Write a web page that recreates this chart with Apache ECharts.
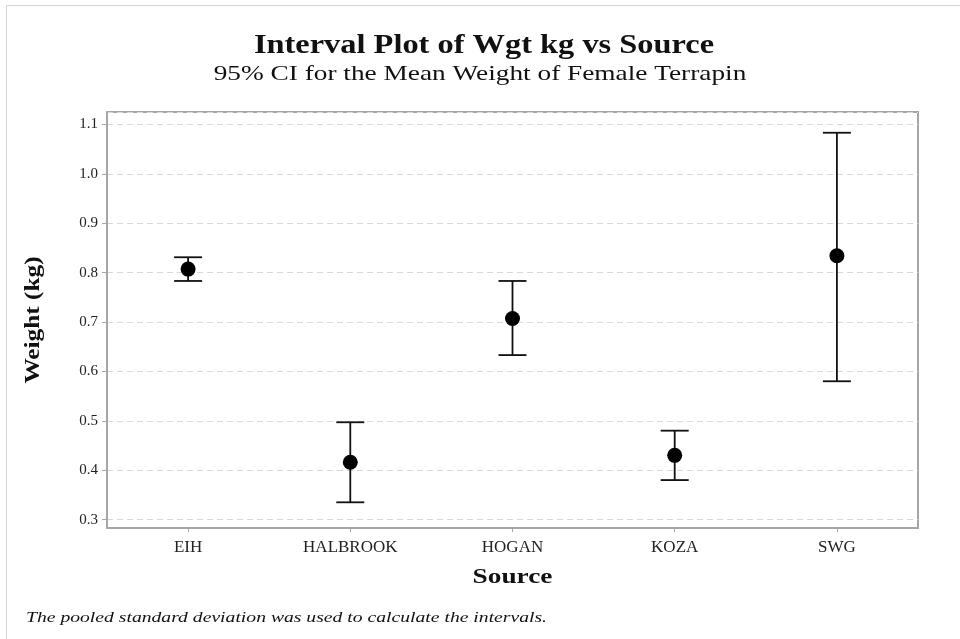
<!DOCTYPE html>
<html>
<head>
<meta charset="utf-8">
<script src="https://cdn.jsdelivr.net/npm/echarts@6/dist/echarts.min.js"></script>
<style>
html,body{margin:0;padding:0;background:#fff;}
#chart{width:960px;height:639px;}
</style>
</head>
<body>
<div id="chart"></div>
<script>
var categories = ['EIH', 'HALBROOK', 'HOGAN', 'KOZA', 'SWG'];
var means = [0.807, 0.416, 0.707, 0.430, 0.834];
var lowers = [0.783, 0.335, 0.633, 0.380, 0.580];
var uppers = [0.831, 0.497, 0.783, 0.480, 1.083];
var yTicks = [0.3, 0.4, 0.5, 0.6, 0.7, 0.8, 0.9, 1.0, 1.1];

var FONT = '"Liberation Serif", "DejaVu Serif", serif';
var chart = echarts.init(document.getElementById('chart'), null, {renderer: 'canvas'});

var errData = categories.map(function (c, i) { return [i, lowers[i], uppers[i]]; });
var meanData = categories.map(function (c, i) { return [i, means[i]]; });

function txt(text, x, y, size, weight, style, align, sx, rot) {
  return {
    type: 'text', x: x, y: y, scaleX: sx, rotation: rot || 0, z: 10,
    style: {text: text, fontFamily: FONT, fontSize: size, fontWeight: weight,
            fontStyle: style, fill: '#111', align: align, verticalAlign: 'middle'}
  };
}

var option = {
  backgroundColor: '#ffffff',
  animation: false,
  graphic: [
    {type: 'line', shape: {x1: 6, y1: 5.5, x2: 960, y2: 5.5}, style: {stroke: '#d4d4d4', lineWidth: 1}},
    {type: 'line', shape: {x1: 6.5, y1: 5, x2: 6.5, y2: 639}, style: {stroke: '#d4d4d4', lineWidth: 1}},
    txt('Interval Plot of Wgt kg vs Source', 484, 46, 27, 'bold', 'normal', 'center', 1.2),
    txt('95% CI for the Mean Weight of Female Terrapin', 480, 74, 21, 'normal', 'normal', 'center', 1.3),
    txt('The pooled standard deviation was used to calculate the intervals.', 26, 618, 15, 'normal', 'italic', 'left', 1.31),
    txt('Source', 512.5, 577, 22, 'bold', 'normal', 'center', 1.24),
    txt('Weight (kg)', 33, 320, 22, 'bold', 'normal', 'center', 1.15, Math.PI / 2)
  ],
  grid: {left: 107, right: 42, top: 112, bottom: 111, show: true,
         borderColor: '#a6a6a6', borderWidth: 2, backgroundColor: 'transparent'},
  xAxis: {
    type: 'category', data: categories, boundaryGap: true,
    axisLine: {show: true, lineStyle: {color: '#a6a6a6', width: 2}},
    axisTick: {show: true, alignWithLabel: true, length: 4, lineStyle: {color: '#a6a6a6', width: 1}},
    axisLabel: {fontFamily: FONT, fontSize: 17, color: '#222', margin: 11},
    splitLine: {show: false}
  },
  yAxis: {
    type: 'value', min: 0.283, max: 1.125, splitNumber: 8,
    axisLine: {show: true, lineStyle: {color: '#a6a6a6', width: 2}},
    axisTick: {show: true, length: 5, lineStyle: {color: '#a6a6a6', width: 1}},
    axisLabel: {fontFamily: FONT, fontSize: 15, color: '#222', margin: 9,
      showMinLabel: false, showMaxLabel: false,
      formatter: function (v) {
        for (var k = 0; k < yTicks.length; k++) {
          if (Math.abs(v - yTicks[k]) < 1e-6) return yTicks[k].toFixed(1);
        }
        return '';
      }},
    splitLine: {show: true, lineStyle: {color: '#d9d9d9', type: [6, 4], width: 1.2}}
  },
  series: [
    {
      type: 'custom', name: 'CI', data: errData, z: 3,
      renderItem: function (params, api) {
        var x = api.value(0);
        var lo = api.coord([x, api.value(1)]);
        var hi = api.coord([x, api.value(2)]);
        var hw = 14;
        var st = {stroke: '#111', lineWidth: 1.8, fill: null};
        return {type: 'group', children: [
          {type: 'line', shape: {x1: hi[0], y1: hi[1], x2: lo[0], y2: lo[1]}, style: st},
          {type: 'line', shape: {x1: hi[0] - hw, y1: hi[1], x2: hi[0] + hw, y2: hi[1]}, style: st},
          {type: 'line', shape: {x1: lo[0] - hw, y1: lo[1], x2: lo[0] + hw, y2: lo[1]}, style: st}
        ]};
      }
    },
    {
      type: 'scatter', name: 'Mean', data: meanData, z: 4,
      symbol: 'circle', symbolSize: 15,
      itemStyle: {color: '#000', opacity: 1}
    }
  ]
};
chart.setOption(option);
</script>
</body>
</html>
